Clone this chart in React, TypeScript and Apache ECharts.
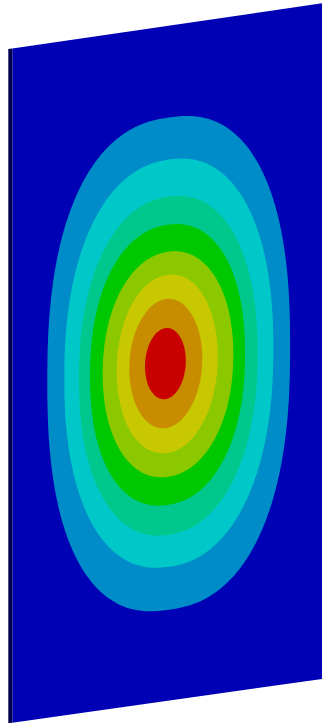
import React, { useEffect, useRef } from "react";
import * as echarts from "echarts";

// Contour band colours, outermost (background) to innermost (peak)
const levelColors = [
  "#0000B4",
  "#008CC8",
  "#00C8C8",
  "#00C88C",
  "#00C800",
  "#8CC800",
  "#C8C800",
  "#C88C00",
  "#C80000",
];
const edgeColor = "#00004E";

// Contour boundaries in plate units (origin at plate's top-left corner), outer to inner
const ringCenterU = [156.4, 156.5, 156.0, 155.2, 155.7, 154.9, 153.5, 153.1];
const ringCenterV = [337.8, 337.3, 339.8, 338.8, 338.3, 337.8, 337.3, 337.3];
const ringHalfWidth = [121.4, 104.5, 89.3, 77.5, 65.3, 50.5, 36.5, 20.4];
const ringHalfHeight = [246, 203.5, 169, 140, 112.5, 89, 64.5, 35.5];
const ringSquareness = [2.4, 2.25, 2.2, 2.2, 2.1, 2.05, 2.0, 2.0];

// Plate extent in plate units
const plateWidth = 316;
const plateHeight = 674.5;

// view projection of the plate (skewed plane)
const VIEW = {
  x0: 12.3,
  topY0: 48.5,
  topSlope: 0.1458,
  botY0: 722.7,
  botSlope: 0.1415,
  edge: 4,
};

function project(u: number, v: number): [number, number] {
  const x = VIEW.x0 + u;
  const yTop = VIEW.topY0 - VIEW.topSlope * u;
  const yBot = VIEW.botY0 - VIEW.botSlope * u;
  return [x, yTop + (v / plateHeight) * (yBot - yTop)];
}

export default function App() {
  const ref = useRef<HTMLDivElement>(null);
  useEffect(() => {
    if (!ref.current) return;
    const chart = echarts.init(ref.current, undefined, { renderer: "svg" });

    const ringData = ringHalfWidth.map((a, i) => [
      ringCenterU[i],
      ringCenterV[i],
      a,
      ringHalfHeight[i],
      ringSquareness[i],
      i + 1,
    ]);

    chart.setOption({
      animation: false,
      grid: { left: 0, right: 0, top: 0, bottom: 0 },
      xAxis: { type: "value", min: 0, max: 322, show: false },
      yAxis: { type: "value", min: 0, max: 723, inverse: true, show: false },
      series: [
        {
          type: "custom",
          coordinateSystem: "cartesian2d",
          clip: false,
          silent: true,
          data: [[0, 0, plateWidth, plateHeight]],
          renderItem: (params: any, api: any) => {
            const w = api.value(2);
            const h = api.value(3);
            const face = [
              project(0, 0),
              project(w, 0),
              project(w, h),
              project(0, h),
            ].map((p) => api.coord(p));
            const t0 = project(0, 0);
            const b0 = project(0, h);
            const side = [
              [t0[0] - VIEW.edge, t0[1] + 0.6],
              t0,
              b0,
              [b0[0] - VIEW.edge, b0[1] + 0.6],
            ].map((p) => api.coord(p));
            return {
              type: "group",
              children: [
                {
                  type: "polygon",
                  shape: { points: face },
                  style: { fill: levelColors[0] },
                },
                {
                  type: "polygon",
                  shape: { points: side },
                  style: { fill: edgeColor },
                },
              ],
            };
          },
        },
        {
          type: "custom",
          coordinateSystem: "cartesian2d",
          clip: false,
          silent: true,
          data: ringData,
          renderItem: (params: any, api: any) => {
            const cu = api.value(0);
            const cv = api.value(1);
            const a = api.value(2);
            const b = api.value(3);
            const p = api.value(4);
            const lvl = api.value(5);
            const pts: number[][] = [];
            const n = 240;
            for (let k = 0; k < n; k++) {
              const t = (k / n) * Math.PI * 2;
              const c = Math.cos(t);
              const s = Math.sin(t);
              const u = cu + a * Math.sign(c) * Math.pow(Math.abs(c), 2 / p);
              const v = cv + b * Math.sign(s) * Math.pow(Math.abs(s), 2 / p);
              pts.push(api.coord(project(u, v)));
            }
            return {
              type: "polygon",
              shape: { points: pts },
              style: { fill: levelColors[lvl] },
            };
          },
        },
      ],
    });
    return () => chart.dispose();
  }, []);
  return (
    <div
      ref={ref}
      style={{ position: "absolute", left: 0, top: 0, width: 322, height: 723 }}
    />
  );
}
